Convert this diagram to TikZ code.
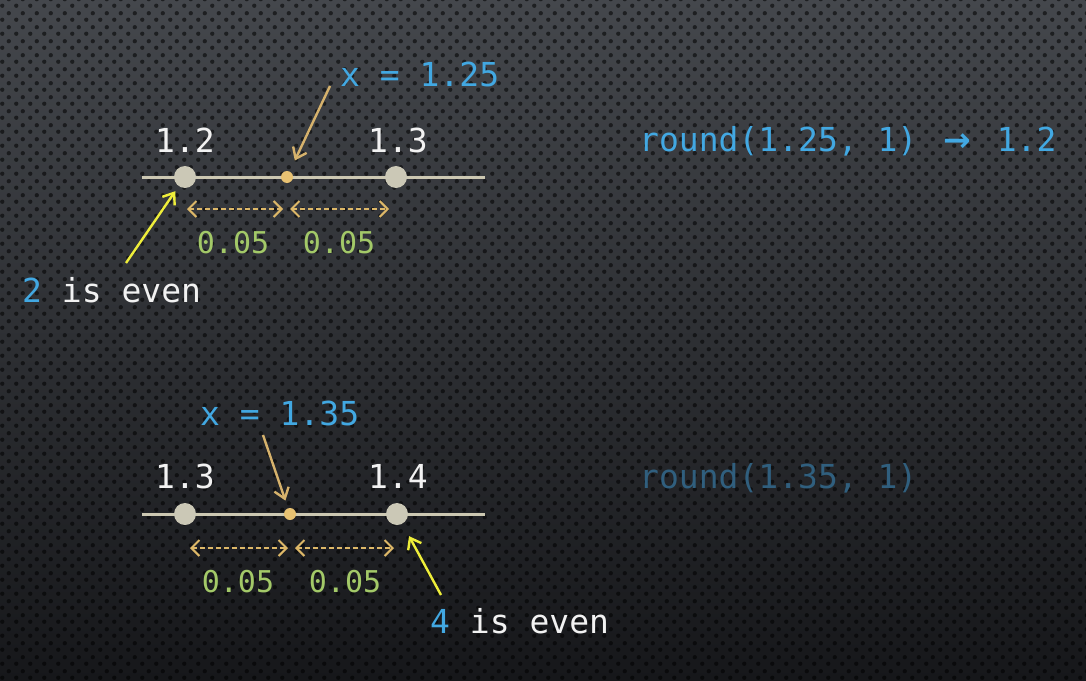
\documentclass[tikz,border=0pt]{standalone}
\usepackage{fontspec}
\setmainfont{DejaVu Sans Mono}
\newfontfamily\arrowfont{DejaVu Sans}
\usetikzlibrary{arrows.meta,patterns.meta}
\definecolor{bgtop}{HTML}{44474C}
\definecolor{bgbot}{HTML}{16171A}
\definecolor{txtw}{HTML}{F2F2F2}
\definecolor{txtb}{HTML}{42A8E2}
\definecolor{txtdim}{HTML}{305F7E}
\definecolor{txtg}{HTML}{A3C968}
\definecolor{axisc}{HTML}{CCC8B2}
\definecolor{tickc}{HTML}{CBC8B6}
\definecolor{midc}{HTML}{E8C272}
\definecolor{tanc}{HTML}{D6B26C}
\definecolor{dashc}{HTML}{DDB868}
\definecolor{yelc}{HTML}{EEEE3A}
\tikzdeclarepattern{name=bgdots, type=uncolored,
  bottom left={(0pt,0pt)}, top right={(14pt,14pt)}, tile size={(14pt,14pt)},
  code={\fill (3.5pt,3.5pt) circle (2.3pt); \fill (10.5pt,10.5pt) circle (2.3pt);}}
\tikzset{
  lbl/.style={font=\fontsize{33}{36}\selectfont, text=txtw, inner sep=0},
  small/.style={font=\fontsize{30}{33}\selectfont, text=txtg, inner sep=0},
  axisline/.style={draw=axisc, line width=3pt},
  tickdot/.style={circle, fill=tickc, inner sep=0, minimum size=22pt},
  middot/.style={circle, fill=midc, inner sep=0, minimum size=12pt},
  ptr/.style={draw=tanc, line width=2.4pt, -{Straight Barb[length=10pt,width=15pt]}},
  spanarrow/.style={draw=dashc, line width=2pt, dash pattern=on 5pt off 3pt,
    {Straight Barb[length=8pt,width=16pt]}-{Straight Barb[length=8pt,width=16pt]}},
  evenptr/.style={draw=yelc, line width=2.4pt, -{Straight Barb[length=10pt,width=15pt]}},
}
\begin{document}
\begin{tikzpicture}[x=1pt,y=-1pt]
\useasboundingbox (0,0) rectangle (1086,680);
\shade[top color=bgtop, bottom color=bgbot] (0,0) rectangle (1086,680);
\fill[pattern=bgdots, pattern color=black, opacity=0.55] (0,0) rectangle (1086,680);

% ---------- first block ----------
\coordinate (a1) at (142,177);
\coordinate (b1) at (485,177);
\draw[axisline] (a1) -- (b1);
\node[tickdot] (t11) at (185,177) {};
\node[tickdot] (t12) at (396,177) {};
\node[middot] (m1) at (287,177) {};
\node[lbl, anchor=base] (n11) at (185,152) {1.2};
\node[lbl, anchor=base] (n12) at (398,152) {1.3};
\node[lbl, anchor=base west, text=txtb] (x1) at (340,86) {x = 1.25};
\coordinate (p1) at (330,86);
\draw[ptr, shorten >=12pt] (p1) -- (m1);
\coordinate (d11) at (187,209);
\coordinate (d12) at (283,209);
\coordinate (d13) at (290,209);
\coordinate (d14) at (389,209);
\draw[spanarrow] (d11) -- (d12);
\draw[spanarrow] (d13) -- (d14);
\node[small, anchor=base] (g11) at (233,253) {0.05};
\node[small, anchor=base] (g12) at (339,253) {0.05};
\coordinate (e1) at (126,263);
\draw[evenptr, shorten >=6pt] (e1) -- (t11);
\node[lbl, anchor=base west] (ev1) at (22,302) {\textcolor{txtb}{2} is even};
\node[lbl, anchor=base west, text=txtb] (r1) at (639,151) {round(1.25, 1) \makebox[1.204em][c]{\arrowfont\bfseries →} 1.2};

% ---------- second block ----------
\coordinate (a2) at (142,514);
\coordinate (b2) at (485,514);
\draw[axisline] (a2) -- (b2);
\node[tickdot] (t21) at (185,514) {};
\node[tickdot] (t22) at (397,514) {};
\node[middot] (m2) at (290,514) {};
\node[lbl, anchor=base] (n21) at (185,488) {1.3};
\node[lbl, anchor=base] (n22) at (398,488) {1.4};
\node[lbl, anchor=base west, text=txtb] (x2) at (200,425) {x = 1.35};
\coordinate (p2) at (263,435);
\draw[ptr, shorten >=8pt] (p2) -- (m2);
\coordinate (d21) at (190,548);
\coordinate (d22) at (288,548);
\coordinate (d23) at (295,548);
\coordinate (d24) at (394,548);
\draw[spanarrow] (d21) -- (d22);
\draw[spanarrow] (d23) -- (d24);
\node[small, anchor=base] (g21) at (238,592) {0.05};
\node[small, anchor=base] (g22) at (345,592) {0.05};
\coordinate (e2) at (441,595);
\draw[evenptr, shorten >=14pt] (e2) -- (t22);
\node[lbl, anchor=base west] (ev2) at (430,633) {\textcolor{txtb}{4} is even};
\node[lbl, anchor=base west, text=txtdim] (r2) at (639,488) {round(1.35, 1)};
\end{tikzpicture}
\end{document}
